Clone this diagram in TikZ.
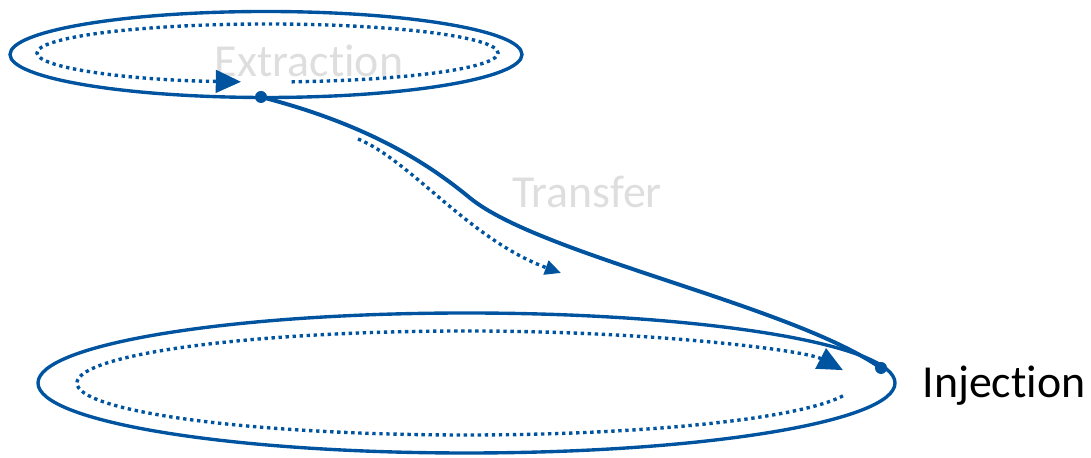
\documentclass[tikz,border=0pt]{standalone}
\usepackage{fontspec}
\setmainfont{Carlito}[Ligatures=NoCommon]
\usepackage{tikz}
\usetikzlibrary{arrows.meta}
\definecolor{loopblue}{RGB}{0,84,159}

\begin{document}
\begin{tikzpicture}[
  x=0.025cm, y=0.025cm,
  font=\fontsize{32.6}{39}\selectfont,
  ring/.style={draw=loopblue, line width=2.4pt},
  transfer/.style={draw=loopblue, line width=2.8pt},
  dotline/.style={draw=loopblue, line width=2.4pt, dash pattern=on 2.4pt off 2.6pt},
  bigtip/.style={-{Triangle[length=0.63cm, width=0.56cm]}},
  smalltip/.style={-{Triangle[length=0.4cm, width=0.36cm]}},
  pin/.style={circle, fill=loopblue, inner sep=0pt, minimum size=0.3cm},
  faint/.style={text=black!13, anchor=base},
  caption/.style={text=black, anchor=base}
]
\useasboundingbox (0,0) rectangle (1091,458);

\coordinate (extop) at (266,403.5);
\coordinate (exloop) at (267.5,405);
\coordinate (injring) at (466.5,75);
\coordinate (injloop) at (466,75);
\coordinate (trstart) at (358,319);
\coordinate (trend) at (561,185);

\node[faint] (extraction) at (309,381) {Extraction};
\node[faint] (transferlabel) at (587,250) {Transfer};
\node[caption] (injection) at (1004,60) {Injection};

\draw[ring] (extop) ellipse[x radius=256, y radius=43];
\draw[ring] (injring) ellipse[x radius=428.5, y radius=70];

\draw[dotline, bigtip] ([shift={(276:230.5 and 29)}]exloop)
  arc[start angle=276, end angle=623.4, x radius=230.5, y radius=29];
\draw[dotline, bigtip] ([shift={(-14.3:389 and 52)}]injloop)
  arc[start angle=-14.3, end angle=-345.7, x radius=389, y radius=52];

\node[pin] (exdot) at (261,361) {};
\node[pin] (injdot) at (881,90) {};

\draw[transfer] (exdot.center) .. controls (370,333) and (430,293) .. (470,260)
  .. controls (540,203) and (790,153) .. (injdot.center);
\draw[dotline, smalltip] (trstart) .. controls (410,298) and (470,218) .. (trend);
\end{tikzpicture}
\end{document}
